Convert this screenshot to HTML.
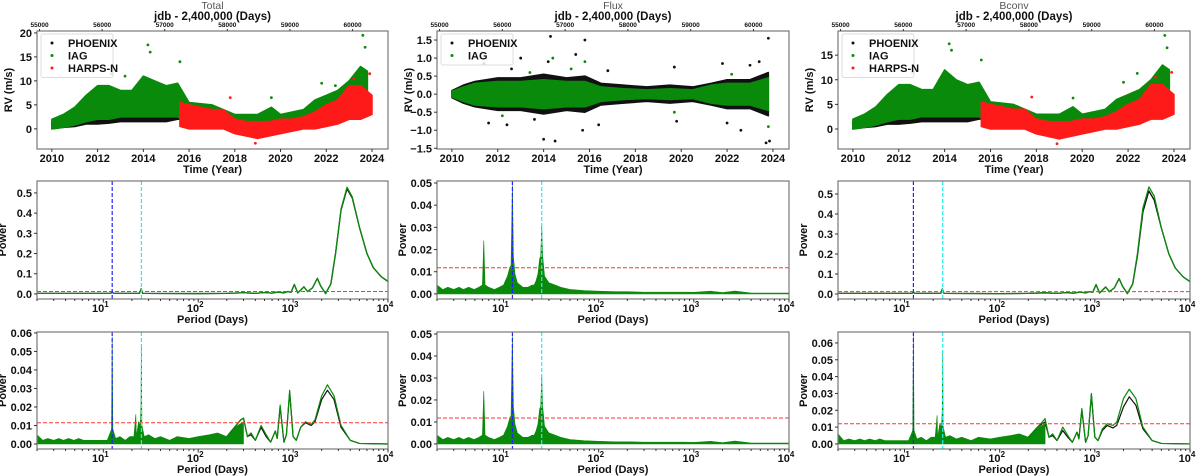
<!DOCTYPE html>
<html><head><meta charset="utf-8">
<style>
html,body{margin:0;padding:0;background:#fff;}
svg{display:block;font-family:"Liberation Sans",sans-serif;}
</style></head>
<body>
<svg id="fig" width="1200" height="476" viewBox="0 0 1200 476" xmlns="http://www.w3.org/2000/svg"></svg>
<script>
// ---------------- data ----------------
const panelTitles = ["Total","Flux","Bconv"];
const yearTicks = [2010,2012,2014,2016,2018,2020,2022,2024];
const jdbTicks = [55000,56000,57000,58000,59000,60000];
const rvTicksTotal = [0,5,10,15,20];
const rvTicksFlux = [-1.5,-1.0,-0.5,0.0,0.5,1.0,1.5];
const rvTicksBconv = [0,5,10,15];
const powTicksBig = [0.0,0.1,0.2,0.3,0.4,0.5];
const powTicks05 = [0.00,0.01,0.02,0.03,0.04,0.05];
const powTicks06 = [0.00,0.01,0.02,0.03,0.04,0.05,0.06];

// RV cloud envelopes: year, low, high
const totPhxYears = [2010.0,2010.5,2011,2011.5,2012,2012.5,2013,2013.5,2014,2014.5,2015,2015.5,2015.8];
const totPhxLow   = [0,0.3,0.5,1,1,1.2,1.5,1.5,1.5,1.5,1.5,2,2];
const totPhxHigh  = [1.5,2.5,4,6,7,7.5,7,7,9,9,8,8,7];
const totIagYears = [2010.0,2010.5,2011,2011.5,2012,2012.5,2013,2013.5,2014,2014.5,2015,2015.5,2016,2017,2018,2019,2019.6,2020,2021,2021.5,2022,2022.5,2023,2023.5,2023.8];
const totIagLow   = [0,0.3,0.8,1.5,2,2,2.5,2.5,2.5,2.5,2.5,2.5,1,0.5,0,0,0,0,1,2,2,3,3,3,3];
const totIagHigh  = [2,3,4.5,7,9,9,8,8,11,10,9,9.5,5.5,5,3,3,4.5,3,4,6,7,8,10,13,12];
const totHarYears = [2015.6,2016,2016.5,2017,2017.5,2018,2018.5,2019,2019.5,2020,2020.5,2021,2021.5,2022,2022.5,2023,2023.5,2024];
const totHarLow   = [0.5,0,0,0,0,-1,-1.5,-2,-1.5,-1,-0.5,0,0,0.5,1,2,2,3];
const totHarHigh  = [5.5,5,4.5,4,4,2,1.5,1.5,1.5,2,2,2.5,3.5,5,6,9,9,7];
const totIagOutY  = [2011.8,2012.6,2013.2,2014.2,2014.3,2015.6,2019.6,2021.8,2022.4,2023.6,2023.7];
const totIagOutV  = [12,11.5,11,17.5,16,14,6.5,9.5,9,19.5,17];
const totHarOutY  = [2017.8,2018.9,2023.2,2023.9];
const totHarOutV  = [6.5,-3,10.5,11.5];

const fluxPhxYears = [2010.0,2010.5,2011,2012,2013,2014,2015,2015.8,2016.5,2017.5,2018.5,2019.5,2020.5,2021.3,2022,2023,2023.8];
const fluxPhxLow   = [-0.1,-0.25,-0.35,-0.45,-0.45,-0.55,-0.45,-0.5,-0.3,-0.25,-0.2,-0.25,-0.2,-0.3,-0.4,-0.4,-0.6];
const fluxPhxHigh  = [0.1,0.25,0.35,0.45,0.45,0.55,0.45,0.5,0.3,0.25,0.2,0.25,0.2,0.3,0.4,0.4,0.6];
const fluxIagYears = [2010.0,2010.5,2011,2012,2013,2014,2015,2015.8,2016.5,2017.5,2018.5,2019.5,2020.5,2021.3,2022,2023,2023.8];
const fluxIagLow   = [-0.08,-0.2,-0.3,-0.35,-0.35,-0.4,-0.35,-0.35,-0.2,-0.15,-0.12,-0.15,-0.12,-0.25,-0.3,-0.3,-0.45];
const fluxIagHigh  = [0.08,0.2,0.3,0.35,0.35,0.4,0.35,0.35,0.2,0.15,0.12,0.15,0.12,0.25,0.3,0.3,0.45];
const fluxPhxOutY  = [2011.4,2011.6,2012.4,2012.6,2013.0,2013.6,2014.0,2014.2,2014.3,2014.5,2015.4,2015.7,2015.8,2016.4,2016.8,2019.7,2019.8,2021.8,2022.0,2022.6,2023.0,2023.4,2023.7,2023.8,2023.85];
const fluxPhxOutV  = [0.85,-0.8,-0.85,0.7,1.0,-0.7,-1.25,0.9,1.6,-1.3,1.1,-1.0,1.5,-0.85,0.65,0.75,-0.75,0.85,-0.8,-1.0,0.8,0.9,-1.35,1.55,-1.3];
const fluxIagOutY  = [2012.2,2013.4,2014.4,2015.2,2015.8,2019.7,2022.2,2023.8];
const fluxIagOutV  = [-0.6,0.6,1.0,0.7,0.9,-0.5,0.55,-0.9];

const bcoPhxYears = totPhxYears;
const bcoPhxLow   = totPhxLow;
const bcoPhxHigh  = [1.5,2.5,4,6,7,7.5,7,7,10,9,8,8,7];
const bcoIagYears = totIagYears;
const bcoIagLow   = totIagLow;
const bcoIagHigh  = [2,3,4.5,7,9,9,8,8,12,10,9,9.5,5.5,5,3,3,4.5,3,4,6,7,8,10,13,12];
const bcoHarYears = totHarYears;
const bcoHarLow   = totHarLow;
const bcoHarHigh  = totHarHigh;
const bcoIagOutY  = [2011.8,2012.6,2014.2,2014.3,2015.6,2019.6,2021.8,2022.4,2023.6,2023.7];
const bcoIagOutV  = [12,11.5,17.3,16,14,6.3,9.5,11.3,19,16.5];

// periodograms: period (days), power
const totLongP   = [2,10,12,12.4,12.8,24,25,26,100,200,300,400,500,600,700,800,880,950,1030,1120,1300,1420,1600,1800,1950,2200,2500,2800,3200,3700,4200,5000,6000,7000,8500,10000];
const totLongG   = [0.003,0.003,0.003,0.01,0.003,0.003,0.025,0.003,0.002,0.003,0.006,0.003,0.007,0.004,0.01,0.005,0.012,0.008,0.047,0.005,0.035,0.012,0.03,0.077,0.04,0.002,0.05,0.2,0.42,0.528,0.48,0.33,0.2,0.13,0.085,0.062];
const totLongB   = [0.003,0.003,0.003,0.01,0.003,0.003,0.025,0.003,0.002,0.003,0.006,0.003,0.007,0.004,0.01,0.005,0.012,0.008,0.047,0.005,0.035,0.012,0.03,0.077,0.04,0.002,0.05,0.2,0.415,0.52,0.475,0.33,0.2,0.13,0.085,0.062];
const bcoLongG   = [0.003,0.003,0.003,0.01,0.003,0.003,0.025,0.003,0.002,0.003,0.006,0.003,0.007,0.004,0.01,0.005,0.012,0.008,0.047,0.005,0.035,0.012,0.03,0.077,0.04,0.002,0.05,0.2,0.43,0.535,0.49,0.33,0.2,0.13,0.085,0.062];
const bcoLongB   = [0.003,0.003,0.003,0.01,0.003,0.003,0.025,0.003,0.002,0.003,0.006,0.003,0.007,0.004,0.01,0.005,0.012,0.008,0.047,0.005,0.035,0.012,0.03,0.077,0.04,0.002,0.05,0.19,0.41,0.515,0.47,0.33,0.2,0.13,0.085,0.062];

const resP  = [200,250,280,300,330,360,400,460,520,580,650,680,730,800,850,920,1000,1080,1200,1350,1550,1700,2000,2300,2700,3200,4000,5000,10000];
const totResG = [0.004,0.01,0.013,0.014,0.004,0.006,0.002,0.01,0.005,0.001,0.007,0.003,0.021,0.001,0.005,0.029,0.004,0.002,0.009,0.012,0.0105,0.013,0.026,0.032,0.026,0.01,0.002,0.0003,0];
const totResB = [0.004,0.01,0.013,0.014,0.004,0.005,0.002,0.009,0.004,0.001,0.007,0.003,0.02,0.001,0.005,0.028,0.004,0.002,0.009,0.0115,0.01,0.012,0.024,0.029,0.024,0.009,0.002,0.0003,0];
const bcoResG = [0.004,0.01,0.013,0.015,0.004,0.006,0.002,0.01,0.005,0.001,0.007,0.003,0.021,0.001,0.005,0.03,0.004,0.002,0.009,0.012,0.011,0.013,0.027,0.0325,0.027,0.01,0.002,0.0003,0];
const bcoResB = [0.004,0.01,0.012,0.013,0.004,0.005,0.002,0.008,0.004,0.001,0.007,0.003,0.02,0.001,0.005,0.029,0.004,0.002,0.008,0.011,0.0095,0.011,0.022,0.028,0.023,0.009,0.002,0.0003,0];

// short-period noise envelopes
const resNoiseP = [2,2.3,2.6,3,3.4,3.8,4.3,4.9,5.5,6.2,7,8,9,10,11,11.8,12.2,12.4,12.6,13.5,15,17,19,21,22,22.3,23.5,24.5,24.9,25.2,25.5,27,30,35,40,50,60,80,100,130,160,200,230,260,300];
const totNoiseV = [0.005,0.002,0.003,0.002,0.003,0.002,0.003,0.002,0.003,0.002,0.002,0.002,0.002,0.002,0.002,0.006,0.008,0.058,0.008,0.003,0.004,0.002,0.004,0.004,0.016,0.004,0.012,0.01,0.02,0.053,0.01,0.004,0.005,0.003,0.004,0.002,0.004,0.003,0.004,0.005,0.006,0.004,0.008,0.01,0.012];
const bcoNoiseV = [0.006,0.002,0.003,0.002,0.003,0.002,0.003,0.002,0.003,0.002,0.002,0.002,0.002,0.002,0.002,0.006,0.008,0.064,0.008,0.003,0.004,0.002,0.004,0.004,0.017,0.004,0.012,0.01,0.02,0.054,0.01,0.004,0.005,0.003,0.004,0.002,0.004,0.003,0.004,0.005,0.006,0.004,0.008,0.01,0.012];
const fluxP = [2,2.3,2.6,3,3.4,3.8,4.3,4.9,5.5,6.0,6.2,6.4,7,8,9,10,11,11.5,12,12.4,12.7,13.2,14,16,18,20,21,22,23,24,24.6,25.2,25.8,27,30,35,40,50,70,100,150,200,300,500,800,1000,1500,2000,2700,4000,10000];
const fluxV = [0.004,0.002,0.003,0.002,0.003,0.002,0.003,0.002,0.003,0.004,0.024,0.004,0.003,0.002,0.003,0.004,0.008,0.011,0.013,0.049,0.017,0.009,0.005,0.003,0.003,0.004,0.004,0.006,0.009,0.016,0.017,0.031,0.017,0.008,0.005,0.004,0.003,0.002,0.0015,0.0012,0.001,0.001,0.0008,0.0008,0.0008,0.0007,0.0012,0.0006,0.0013,0.0004,0.0004];

const fapLevels = [[0.012,0.0118,0.012],[0.0115,0.0118,0.012]];
const rotP1 = 12.4, rotP2 = 25.2;

// ---------------- layout ----------------
const NS="http://www.w3.org/2000/svg";
const svg=document.getElementById('fig');
const cols=[[37,388],[437,789],[838,1190]];
const rows=[[31,149],[181,299],[332,449]];
function el(tag,attrs,parent){const e=document.createElementNS(NS,tag);for(const k in attrs)e.setAttribute(k,attrs[k]);(parent||svg).appendChild(e);return e;}
function txt(s,attrs,parent){const t=el('text',attrs,parent);t.textContent=s;return t;}

function yearScale(c){const [a,b]=cols[c];return y=>a+(y-2009.35)/(2024.7-2009.35)*(b-a);}
function logScale(c){const [a,b]=cols[c];const l0=Math.log10(2),l1=4;return p=>a+(Math.log10(p)-l0)/(l1-l0)*(b-a);}
function linY(r,lo,hi){const [t,bt]=rows[r];return v=>bt-(v-lo)/(hi-lo)*(bt-t);}

function frame(c,r,name){
  const [a,b]=cols[c],[t,bt]=rows[r];
  const cp=el('clipPath',{id:'cp'+c+r});el('rect',{x:a,y:t,width:b-a,height:bt-t},cp);
  const g=el('g',{'clip-path':'url(#cp'+c+r+')'});
  
  
  return g;
}
function border(c,r,name){
  const [a,b]=cols[c],[t,bt]=rows[r];
  const rc=el('rect',{x:a,y:t,width:b-a,height:bt-t,fill:'none',stroke:'#777','stroke-width':1.2});
  
  
}
function yTicks(c,r,ticks,ys,dec,name){
  const a=cols[c][0];
  const g=el('g',{});
  
  
  ticks.forEach(v=>{const y=ys(v);
    el('line',{x1:a-3,x2:a,y1:y,y2:y,stroke:'#333'},g);
    txt((v<0?'\u2212':'')+Math.abs(v).toFixed(dec),{x:a-5,y:y+4,'text-anchor':'end','font-size':11,'font-weight':'bold',fill:'#111'},g);});
}
function yLabel(c,r,s,name){
  const [t,bt]=rows[r];const x=cols[c][0]-(s==='Power'?31:25);const y=(t+bt)/2;
  const tl=txt(s,{x:x,y:y,transform:'rotate(-90 '+x+' '+y+')','text-anchor':'middle','font-size':11,'font-weight':'bold',fill:'#111'});
  
  
}
function xYearAxis(c,name){
  const xs=yearScale(c),bt=rows[0][1],t=rows[0][0];
  const g=el('g',{});
  
  
  yearTicks.forEach(y=>{const x=xs(y);el('line',{x1:x,x2:x,y1:bt,y2:bt+3,stroke:'#333'},g);
    txt(String(y),{x:x,y:bt+13,'text-anchor':'middle','font-size':11,'font-weight':'bold',fill:'#111'},g);});
  txt('Time (Year)',{x:(cols[c][0]+cols[c][1])/2,y:bt+24,'text-anchor':'middle','font-size':11,'font-weight':'bold',fill:'#111'},g);
  const g2=el('g',{});
  
  
  jdbTicks.forEach(j=>{const yr=2000+(j-51544.5)/365.25;const x=xs(yr);
    el('line',{x1:x,x2:x,y1:t-2,y2:t,stroke:'#333'},g2);
    txt(String(j),{x:x,y:t-4,'text-anchor':'middle','font-size':6.5,'font-weight':'bold',fill:'#111'},g2);});
  txt('jdb - 2,400,000 (Days)',{x:(cols[c][0]+cols[c][1])/2,y:20,'text-anchor':'middle','font-size':11.5,'font-weight':'bold',fill:'#111'},g2);
  const tt=txt(panelTitles[c],{x:(cols[c][0]+cols[c][1])/2,y:9,'text-anchor':'middle','font-size':10.5,fill:'#555'});
  
  
}
function xLogAxis(c,r,name){
  const xs=logScale(c),bt=rows[r][1];
  const g=el('g',{});
  
  
  for(let d=0;d<=4;d++){for(let m=1;m<10;m++){const p=m*Math.pow(10,d);if(p<2||p>10000)continue;
    const x=xs(p);el('line',{x1:x,x2:x,y1:bt,y2:bt+(m===1?3.5:2),stroke:'#333'},g);
    if(m===1&&d>=1){const t=txt('10',{x:x-3,y:bt+13,'text-anchor':'middle','font-size':11,'font-weight':'bold',fill:'#111'},g);
      const s=el('tspan',{dy:-5,'font-size':8},t);s.textContent=String(d);}}}
  txt('Period (Days)',{x:(cols[c][0]+cols[c][1])/2,y:bt+24,'text-anchor':'middle','font-size':11,'font-weight':'bold',fill:'#111'},g);
}
function band(g,xs,ys,years,low,high,color,name){
  let pts=years.map((y,i)=>xs(y)+','+ys(high[i]));
  for(let i=years.length-1;i>=0;i--)pts.push(xs(years[i])+','+ys(low[i]));
  const p=el('polygon',{points:pts.join(' '),fill:color,stroke:color,'stroke-width':1.5,'stroke-linejoin':'round'},g);
  
  
}
function dots(g,xs,ys,years,vals,color,name){
  const gg=el('g',{},g);
  
  
  years.forEach((y,i)=>el('circle',{cx:xs(y),cy:ys(vals[i]),r:1.4,fill:color},gg));
}
function legend(c,items){
  const a=cols[c][0]+4,t=rows[0][0]+3;
  const g=el('g',{});
  
  
  el('rect',{x:a,y:t,width:72,height:items.length*12.5+6,fill:'#fff','fill-opacity':0.85,stroke:'#ddd',rx:2},g);
  items.forEach((it,i)=>{const y=t+10+i*12.5;
    const e=el('g',{},g);
    
    
    el('circle',{cx:a+11,cy:y-1,r:1.5,fill:it[1]},e);
    txt(it[0],{x:a+27,y:y+3,'font-size':11,'font-weight':'bold',fill:'#111'},e);});
}
function line(g,xs,ys,P,V,color,w,name){
  const p=el('polyline',{points:P.map((p,i)=>xs(p)+','+ys(V[i])).join(' '),fill:'none',stroke:color,'stroke-width':w,'stroke-linejoin':'round'},g);
  
  
}
function area(g,xs,ys,P,V,color,name){
  let pts=[xs(P[0])+','+ys(0)];P.forEach((p,i)=>pts.push(xs(p)+','+ys(V[i])));pts.push(xs(P[P.length-1])+','+ys(0));
  const p=el('polygon',{points:pts.join(' '),fill:color,stroke:color,'stroke-width':0.6},g);
  
  
}
function refLines(g,c,r,ys,fap,name){
  const xs=logScale(c),[a,b]=cols[c],[t,bt]=rows[r];
  let e=el('line',{x1:a,x2:b,y1:ys(fap),y2:ys(fap),stroke:'#f33','stroke-width':1,'stroke-dasharray':'4 2'},g);
  
  e=el('line',{x1:xs(rotP1),x2:xs(rotP1),y1:t,y2:bt,stroke:'#22f','stroke-width':1.2,'stroke-dasharray':'4 2'},g);
  
  e=el('line',{x1:xs(rotP2),x2:xs(rotP2),y1:t,y2:bt,stroke:'#2ee','stroke-width':1.2,'stroke-dasharray':'4 2'},g);
  
}

const BLK='#111',GRN='#0a8a0a',RED='#ff1a1a';

// ---- top row ----
(function(){
  let c=0,ys=linY(0,-4.2,20.4),xs=yearScale(c),g=frame(c,0,'total-rv');
  band(g,xs,ys,totPhxYears,totPhxLow,totPhxHigh,BLK,'phoenix-rv-cloud');
  band(g,xs,ys,totIagYears,totIagLow,totIagHigh,GRN,'iag-rv-cloud');
  dots(g,xs,ys,totIagOutY,totIagOutV,GRN,'iag-rv-outliers');
  band(g,xs,ys,totHarYears,totHarLow,totHarHigh,RED,'harpsn-rv-cloud');
  dots(g,xs,ys,totHarOutY,totHarOutV,RED,'harpsn-rv-outliers');
  border(c,0,'total-rv');yTicks(c,0,rvTicksTotal,ys,0,'total-rv');yLabel(c,0,'RV (m/s)','total-rv');xYearAxis(c,'total-rv');
  legend(c,[['PHOENIX',BLK],['IAG',GRN],['HARPS-N',RED]]);
})();
(function(){
  let c=1,ys=linY(0,-1.52,1.75),xs=yearScale(c),g=frame(c,0,'flux-rv');
  band(g,xs,ys,fluxPhxYears,fluxPhxLow,fluxPhxHigh,BLK,'phoenix-rv-cloud');
  dots(g,xs,ys,fluxPhxOutY,fluxPhxOutV,BLK,'phoenix-rv-outliers');
  band(g,xs,ys,fluxIagYears,fluxIagLow,fluxIagHigh,GRN,'iag-rv-cloud');
  dots(g,xs,ys,fluxIagOutY,fluxIagOutV,GRN,'iag-rv-outliers');
  border(c,0,'flux-rv');yTicks(c,0,rvTicksFlux,ys,1,'flux-rv');yLabel(c,0,'RV (m/s)','flux-rv');xYearAxis(c,'flux-rv');
  legend(c,[['PHOENIX',BLK],['IAG',GRN]]);
})();
(function(){
  let c=2,ys=linY(0,-4.06,19.9),xs=yearScale(c),g=frame(c,0,'bconv-rv');
  band(g,xs,ys,bcoPhxYears,bcoPhxLow,bcoPhxHigh,BLK,'phoenix-rv-cloud');
  band(g,xs,ys,bcoIagYears,bcoIagLow,bcoIagHigh,GRN,'iag-rv-cloud');
  dots(g,xs,ys,bcoIagOutY,bcoIagOutV,GRN,'iag-rv-outliers');
  band(g,xs,ys,bcoHarYears,bcoHarLow,bcoHarHigh,RED,'harpsn-rv-cloud');
  dots(g,xs,ys,totHarOutY,totHarOutV,RED,'harpsn-rv-outliers');
  border(c,0,'bconv-rv');yTicks(c,0,rvTicksBconv,ys,0,'bconv-rv');yLabel(c,0,'RV (m/s)','bconv-rv');xYearAxis(c,'bconv-rv');
  legend(c,[['PHOENIX',BLK],['IAG',GRN],['HARPS-N',RED]]);
})();

// ---- periodograms ----
function pgram(c,r,lo,hi,ticks,dec,name,draw){
  const ys=linY(r,lo,hi),xs=logScale(c),g=frame(c,r,name);
  draw(g,xs,ys);
  refLines(g,c,r,ys,fapLevels[r-1][c],name);
  border(c,r,name);yTicks(c,r,ticks,ys,dec,name);yLabel(c,r,'Power',name);xLogAxis(c,r,name);
}
pgram(0,1,-0.025,0.559,powTicksBig,1,'total-periodogram',(g,xs,ys)=>{
  line(g,xs,ys,totLongP,totLongB,BLK,1.3,'phoenix-periodogram');
  line(g,xs,ys,totLongP,totLongG,GRN,1.3,'iag-periodogram');});
pgram(1,1,-0.0023,0.0509,powTicks05,2,'flux-periodogram',(g,xs,ys)=>{
  area(g,xs,ys,fluxP,fluxV,GRN,'iag-periodogram');});
pgram(2,1,-0.025,0.565,powTicksBig,1,'bconv-periodogram',(g,xs,ys)=>{
  line(g,xs,ys,totLongP,bcoLongB,BLK,1.3,'phoenix-periodogram');
  line(g,xs,ys,totLongP,bcoLongG,GRN,1.3,'iag-periodogram');});
pgram(0,2,-0.0027,0.0605,powTicks06,2,'total-residual-periodogram',(g,xs,ys)=>{
  area(g,xs,ys,resNoiseP,totNoiseV,GRN,'iag-noise-periodogram');
  line(g,xs,ys,resP,totResB,BLK,1.2,'phoenix-periodogram');
  line(g,xs,ys,resP,totResG,GRN,1.2,'iag-periodogram');});
pgram(1,2,-0.0023,0.0509,powTicks05,2,'flux-residual-periodogram',(g,xs,ys)=>{
  area(g,xs,ys,fluxP,fluxV,GRN,'iag-periodogram');});
pgram(2,2,-0.003,0.0665,powTicks06,2,'bconv-residual-periodogram',(g,xs,ys)=>{
  area(g,xs,ys,resNoiseP,bcoNoiseV,GRN,'iag-noise-periodogram');
  line(g,xs,ys,resP,bcoResB,BLK,1.2,'phoenix-periodogram');
  line(g,xs,ys,resP,bcoResG,GRN,1.2,'iag-periodogram');});
</script>
</body></html>
